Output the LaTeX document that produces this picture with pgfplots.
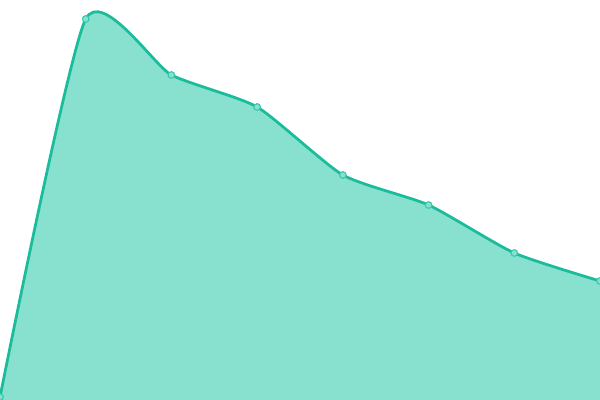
\documentclass[border=0pt]{standalone}
\usepackage{pgfplots}
\pgfplotsset{compat=1.18}
\definecolor{fillc}{HTML}{88E0CF}
\definecolor{linec}{HTML}{1ABC9C}
\begin{document}
\begin{tikzpicture}
\path[use as bounding box, clip] (0,0) rectangle (432bp,288bp);
\begin{axis}[
  at={(0,0)}, anchor=south west,
  scale only axis, width=432bp, height=288bp,
  hide axis, xmin=0, xmax=7, ymin=0, ymax=400,
  clip=false,
]
\addplot[draw=none, fill=fillc, smooth, tension=0.35] coordinates {
(0,3) (1,381) (2,325) (3,293) (4,225) (5,195) (6,147) (7,119)
} \closedcycle;
\addplot[linec, line width=2pt, smooth, tension=0.35,
  mark=*, mark size=2.4pt, mark options={draw=linec!70!fillc, fill=fillc, line width=0.8pt}] coordinates {
(0,3) (1,381) (2,325) (3,293) (4,225) (5,195) (6,147) (7,119)
};
\end{axis}
\end{tikzpicture}
\end{document}
